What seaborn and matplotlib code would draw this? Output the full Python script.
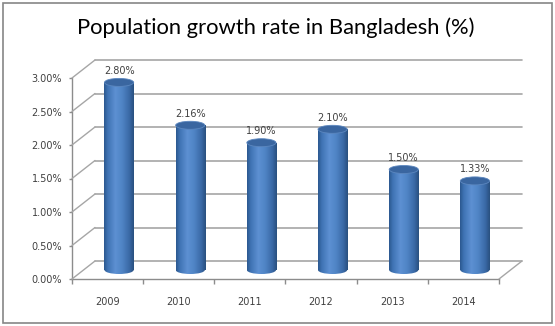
import numpy as np
import pandas as pd
import seaborn as sns
import matplotlib
matplotlib.use('Agg')
import matplotlib.pyplot as plt
from matplotlib.transforms import ScaledTranslation
from matplotlib.patches import Ellipse, Rectangle, ConnectionPatch
from matplotlib.colors import to_rgb

years = ['2009', '2010', '2011', '2012', '2013', '2014']
rates = [2.80, 2.16, 1.90, 2.10, 1.50, 1.33]
yticks = [0.0, 0.5, 1.0, 1.5, 2.0, 2.5, 3.0]
title = 'Population growth rate in Bangladesh (%)'

sns.set_theme(style='white')
plt.rcParams['font.family'] = ['DejaVu Sans']

DPI = 100
W, H = 555, 326
fig = plt.figure(figsize=(W / DPI, H / DPI), dpi=DPI)
fig.patch.set_facecolor('white')
ax = fig.add_axes([72 / W, 47 / H, 427 / W, 201 / H])
ax.set_facecolor('none')

df = pd.DataFrame({'year': years, 'rate': rates})
sns.barplot(data=df, x='year', y='rate', ax=ax, width=0.41,
            color='#4F81BD', saturation=1, zorder=3)
ax.set_xlim(-0.5, 5.5)
ax.set_ylim(0, 3)
ax.set_xlabel('')
ax.set_ylabel('')


def off(dx, dy):
    return ax.transData + ScaledTranslation(dx / DPI, dy / DPI, fig.dpi_scale_trans)


GRID = '#a6a6a6'
AXC = '#8c8c8c'
back = off(23, 18)
mid = off(11.5, 9)

# back wall gridlines and left wall diagonals
for y in yticks:
    ax.plot([-0.5, 5.5], [y, y], transform=back, color=GRID, lw=1.2,
            clip_on=False, zorder=1)
    cp = ConnectionPatch(xyA=(-0.5, y), coordsA=ax.transData,
                         xyB=(-0.5, y), coordsB=back,
                         color=GRID, lw=1.0, zorder=1)
    fig.add_artist(cp)
cp = ConnectionPatch(xyA=(5.5, 0), coordsA=ax.transData,
                     xyB=(5.5, 0), coordsB=back, color=GRID, lw=1.0, zorder=1)
fig.add_artist(cp)

# cylinder gradient
stops_t = [0.0, 0.12, 0.38, 0.6, 0.85, 1.0]
stops_c = ['#2b5890', '#3f73b3', '#5d90d2', '#5085c6', '#3a69a6', '#29507f']
tt = np.linspace(0, 1, 80)
rgb = np.array([to_rgb(c) for c in stops_c])
grad = np.stack([np.interp(tt, stops_t, rgb[:, k]) for k in range(3)], axis=-1)[None, :, :]

eh = 8 / 201 * 3
for p, v in zip(list(ax.patches), rates):
    p.set_transform(mid)
    p.set_clip_on(False)
    p.set_edgecolor('none')
    x0, w, h = p.get_x(), p.get_width(), p.get_height()
    cx = x0 + w / 2
    im = ax.imshow(grad, extent=[x0, x0 + w, -eh / 2, h], aspect='auto',
                   transform=mid, zorder=4, interpolation='bilinear')
    im.set_clip_path(p)
    bottom = Ellipse((cx, 0), w, eh, transform=mid)
    im2 = ax.imshow(grad, extent=[x0, x0 + w, -eh / 2, h], aspect='auto',
                    transform=mid, zorder=4, interpolation='bilinear')
    im2.set_clip_path(bottom)
    top = Ellipse((cx, h), w, eh, transform=mid, facecolor='#3a66a0',
                  edgecolor='#5c87bf', lw=0.6, zorder=5, clip_on=False)
    ax.add_patch(top)
    ax.text(cx, h + 0.1, f'{v:.2f}%', transform=mid, ha='center', va='bottom',
            fontsize=7, color='#404040', zorder=6, clip_on=False)

ax.set_xlim(-0.5, 5.5)
ax.set_ylim(0, 3)

# spines & ticks
for s in ['top', 'right']:
    ax.spines[s].set_visible(False)
for s in ['left', 'bottom']:
    ax.spines[s].set_visible(True)
    ax.spines[s].set_color(AXC)
    ax.spines[s].set_linewidth(1.0)
ax.set_yticks(yticks)
ax.set_yticklabels([f'{v:.2f}%' for v in yticks])
ax.tick_params(axis='y', left=True, length=2.5, width=1, color=AXC, pad=4.5,
               labelsize=7, labelcolor='#404040')
ax.set_xticks(range(len(years)))
ax.set_xticklabels(years)
ax.tick_params(axis='x', which='major', bottom=False, length=0, pad=13,
               labelsize=7, labelcolor='#404040')
ax.set_xticks(np.arange(-0.5, len(years), 1.0), minor=True)
ax.tick_params(axis='x', which='minor', bottom=True, length=3.5, width=1, color=AXC)
ax.grid(False)

fig.text(276 / W, 1 - 28 / H, title, ha='center', va='center', fontsize=15.8,
         family=['Lato', 'DejaVu Sans'], color='black')

border = Rectangle((2.5 / W, 3 / H), 549.5 / W, 320.5 / H,
                   transform=fig.transFigure, fill=False,
                   edgecolor='#868686', lw=1.2)
fig.add_artist(border)

fig.savefig('out.png', dpi=DPI)
